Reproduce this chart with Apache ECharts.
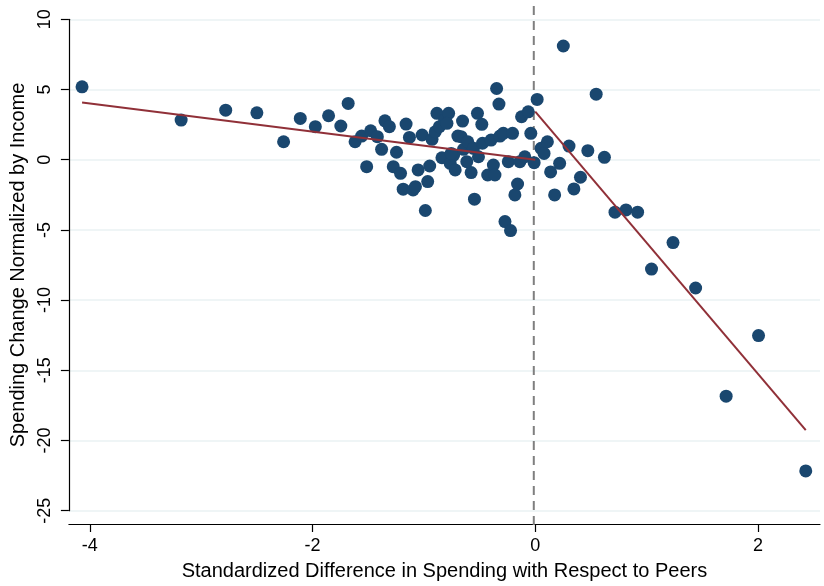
<!DOCTYPE html>
<html>
<head>
<meta charset="utf-8">
<script src="https://cdn.jsdelivr.net/npm/echarts@6/dist/echarts.min.js"></script>
<style>
html,body{margin:0;padding:0;background:#fff;}
#chart{width:824px;height:586px;}
</style>
</head>
<body>
<div id="chart"></div>
<script>
// Scatter points: standardized difference (x) and spending change (y)
var pointX = [
  -4.07, -3.18, -2.78, -2.50, -2.26, -2.11, -1.975, -1.856, -1.746,
  -1.68, -1.618, -1.559, -1.514, -1.478, -1.418, -1.38, -1.35, -1.31, -1.275,
  -1.246, -1.21, -1.186, -1.16, -1.13, -1.097, -1.076, -1.052, -1.016, -0.987,
  -0.966, -0.948, -0.927, -0.898, -0.883, -0.861, -0.838, -0.814, -0.778, -0.793,
  -0.764, -0.733, -0.719, -0.695, -0.653, -0.666, -0.644, -0.606, -0.615, -0.576,
  -0.546, -0.555, -0.519, -0.48, -0.51, -0.474, -0.427, -0.376, -0.362, -0.397,
  -0.347, -0.326, -0.317, -0.287, -0.272, -0.222, -0.242, -0.204, -0.183, -0.159,
  -0.138, -0.123, -0.094, -0.063, -0.04, -0.01, 0.017, -0.755,
  0.052, 0.109, 0.079, 0.252, 0.547, 0.303, 0.472, 0.621, 0.219, 0.138,
  0.406, 0.347, 0.174, 0.716, 0.815, 0.919, 1.237, 1.044, 1.44, 2.005,
  1.714, 2.429
];
var pointY = [
  5.19, 2.82, 3.53, 3.34, 1.28, 2.94, 2.35, 3.13, 2.40,
  4.01, 1.28, 1.68, -0.50, 2.06, 1.64, 0.74, 2.77, 2.35, -0.50,
  0.53, -0.97, -2.10, 2.54, 1.59, -2.15, -1.92, -0.73, 1.76, -3.62,
  -1.56, -0.45, 1.45, 1.99, 3.30, 2.35, 0.14, 2.82, 3.30, 2.59,
  -0.26, 0.33, -0.73, 1.68, 2.75, 1.64, 0.74, 1.28, -0.14, -0.92,
  -2.81, 0.81, 3.30, 2.52, 0.21, 1.17, -1.09, -0.38, -1.09, 1.40,
  5.07, 3.96, 1.68, 1.88, -4.41, -5.05, -0.14, 1.88, -2.51, -1.73,
  -0.14, 3.06, 0.21, 3.41, 1.88, -0.21, 4.29, 0.45,
  0.81, 1.28, 0.45, 8.10, 4.67, 0.97, 0.64, 0.17, -0.26, -0.87,
  -1.25, -2.08, -2.51, -3.74, -3.58, -3.74, -5.90, -7.79, -9.14, -12.53,
  -16.84, -22.17
];
// Fitted lines (endpoints)
var fitLeftX = [-4.07, 0.0];
var fitLeftY = [4.08, 0.0];
var fitRightX = [0.0, 2.429];
var fitRightY = [3.42, -19.26];
// Reference line at x = 0
var refLineX = [0, 0];
var refLineY = [0, 1];
// Ticks
var xTicks = [-4, -2, 0, 2];
var yMin = -25, yMax = 10, yStep = 5;

function zip(a, b) { return a.map(function (v, i) { return [v, b[i]]; }); }

var FONT = '"Liberation Sans", Arial, Helvetica, sans-serif';
var chart = echarts.init(document.getElementById('chart'), null, {renderer: 'canvas'});
var xMin = -4.188, xMax = 2.557;

chart.setOption({
  animation: false,
  backgroundColor: '#ffffff',
  grid: [
    {left: 65, right: 4, top: 19.3, bottom: 74.3},
    {left: 65, right: 4, top: 5, bottom: 61}
  ],
  xAxis: [
    {
      type: 'value', gridIndex: 0, min: xMin, max: xMax, offset: 13.3,
      name: 'Standardized Difference in Spending with Respect to Peers',
      nameLocation: 'middle', nameGap: 37,
      nameTextStyle: {fontFamily: FONT, fontSize: 20, color: '#000'},
      axisLine: {show: true, onZero: false, lineStyle: {color: '#000', width: 1.2}},
      axisTick: {show: true, length: 8, customValues: xTicks, lineStyle: {color: '#000', width: 1.2}},
      axisLabel: {customValues: xTicks, fontFamily: FONT, fontSize: 18, color: '#000', margin: 13},
      splitLine: {show: false}
    },
    {
      type: 'value', gridIndex: 1, min: xMin, max: xMax, show: false
    }
  ],
  yAxis: [
    {
      type: 'value', gridIndex: 0, min: yMin, max: yMax, interval: yStep,
      name: 'Spending Change Normalized by Income',
      nameLocation: 'middle', nameGap: 40,
      nameTextStyle: {fontFamily: FONT, fontSize: 20, color: '#000'},
      axisLine: {show: true, onZero: false, lineStyle: {color: '#000', width: 1.2}},
      axisTick: {show: true, length: 8, lineStyle: {color: '#000', width: 1.2}},
      axisLabel: {rotate: 90, fontFamily: FONT, fontSize: 18, color: '#000', margin: 15},
      splitLine: {show: true, lineStyle: {color: '#eaf2f3', width: 1.5}}
    },
    {
      type: 'value', gridIndex: 1, min: 0, max: 1, show: false
    }
  ],
  series: [
    {
      type: 'line', xAxisIndex: 1, yAxisIndex: 1, z: 1,
      data: zip(refLineX, refLineY), symbol: 'none', silent: true,
      lineStyle: {color: '#7f7f7f', width: 2, type: [9, 6]}
    },
    {
      type: 'scatter', xAxisIndex: 0, yAxisIndex: 0, z: 2,
      data: zip(pointX, pointY), symbol: 'circle', symbolSize: 13,
      itemStyle: {color: '#1a476f', opacity: 1}
    },
    {
      type: 'line', xAxisIndex: 0, yAxisIndex: 0, z: 3,
      data: zip(fitLeftX, fitLeftY), symbol: 'none',
      lineStyle: {color: '#903038', width: 2}
    },
    {
      type: 'line', xAxisIndex: 0, yAxisIndex: 0, z: 3,
      data: zip(fitRightX, fitRightY), symbol: 'none',
      lineStyle: {color: '#903038', width: 2}
    }
  ]
});
</script>
</body>
</html>
